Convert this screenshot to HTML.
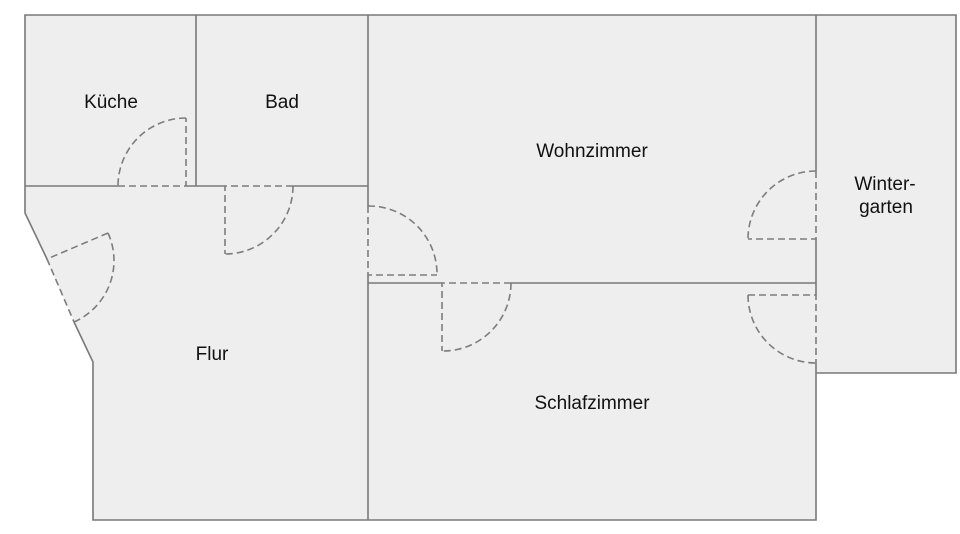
<!DOCTYPE html>
<html>
<head>
<meta charset="utf-8">
<style>
  html, body { margin:0; padding:0; background:#ffffff; }
  svg { display:block; }
  text { font-family: "Liberation Sans", Arial, sans-serif; font-size:19px; fill:#111111; text-anchor:middle; }
</style>
</head>
<body>
<svg width="960" height="534" viewBox="0 0 960 534" xmlns="http://www.w3.org/2000/svg">
  <!-- Fills -->
  <g fill="#eeeeee" stroke="none">
    <polygon points="25,15 956,15 956,373 816,373 816,520 93,520 93,362 25,213"/>
  </g>

  <!-- Solid walls with gaps at doors -->
  <g fill="none" stroke="#787878" stroke-width="1.6" stroke-linecap="butt" stroke-linejoin="miter">
    <polyline points="47,259 25,213 25,15 956,15 956,373 816,373"/>
    <polyline points="74,322 93,362 93,520 816,520 816,363"/>
    <line x1="196" y1="15" x2="196" y2="186"/>
    <!-- y=186 -->
    <line x1="25" y1="186" x2="118" y2="186"/>
    <line x1="186" y1="186" x2="225" y2="186"/>
    <line x1="293" y1="186" x2="368" y2="186"/>
    <!-- x=368 -->
    <line x1="368" y1="15" x2="368" y2="206"/>
    <line x1="368" y1="275" x2="368" y2="520"/>
    <!-- y=283 -->
    <line x1="368" y1="283" x2="442" y2="283"/>
    <line x1="511" y1="283" x2="816" y2="283"/>
    <!-- x=816 -->
    <line x1="816" y1="15" x2="816" y2="171"/>
    <line x1="816" y1="239" x2="816" y2="295"/>
  </g>

  <!-- Doors (dashed) -->
  <g fill="none" stroke="#7d7d7d" stroke-width="1.6" stroke-dasharray="7 4">
    <!-- Küche door -->
    <path d="M118,186 L186,186 L186,118"/>
    <path d="M186,118 A68,68 0 0 0 118,186"/>
    <!-- Bad door -->
    <path d="M293,186 L225,186 L225,254"/>
    <path d="M293,186 A68,68 0 0 1 225,254"/>
    <!-- Flur diagonal door -->
    <path d="M108,233 L47,259 L74,322"/>
    <path d="M108,233 A67,67 0 0 1 74,322"/>
    <!-- Flur/Wohnzimmer door -->
    <path d="M368,206 L368,275 L437,275"/>
    <path d="M368,206 A68,68 0 0 1 437,275"/>
    <!-- Wohnzimmer/Schlafzimmer door -->
    <path d="M511,283 L442,283 L442,351"/>
    <path d="M511,283 A68,68 0 0 1 442,351"/>
    <!-- Wohnzimmer/Wintergarten door -->
    <path d="M816,171 L816,239 L748,239"/>
    <path d="M816,171 A68,68 0 0 0 748,239"/>
    <!-- Schlafzimmer/Wintergarten door -->
    <path d="M748,295 L816,295 L816,363"/>
    <path d="M748,295 A68,68 0 0 0 816,363"/>
  </g>

  <!-- Labels -->
  <text x="111" y="108">Küche</text>
  <text x="282" y="108">Bad</text>
  <text x="592" y="157">Wohnzimmer</text>
  <text x="885" y="190">Winter-</text>
  <text x="886" y="213">garten</text>
  <text x="212" y="360">Flur</text>
  <text x="592" y="409">Schlafzimmer</text>
</svg>
</body>
</html>
